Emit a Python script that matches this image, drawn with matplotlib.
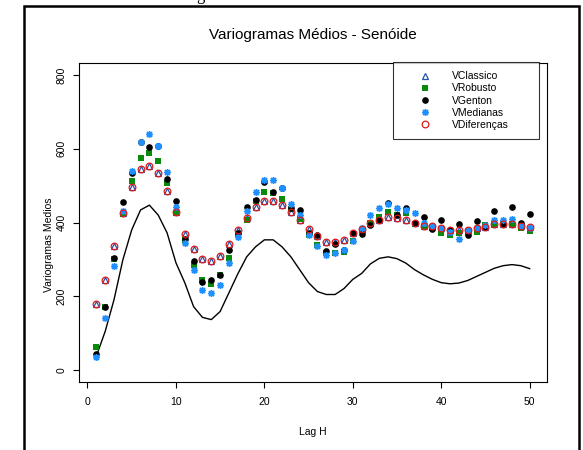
import matplotlib
matplotlib.use("Agg")
import matplotlib.pyplot as plt
from matplotlib.lines import Line2D
import numpy as np

plt.rcParams['font.family'] = ['Liberation Sans', 'DejaVu Sans']

lags = list(range(1, 51))

v_classico = [180, 245, 336, 427, 497, 544, 553, 533, 485, 428,
              368, 327, 301, 295, 310, 341, 380, 412, 441, 459,
              458, 447, 429, 407, 382, 363, 348, 348, 353, 371,
              382, 398, 406, 416, 411, 407, 400, 390, 390, 384,
              380, 380, 380, 384, 387, 395, 395, 395, 390, 388]
v_robusto = [62, 170, 300, 422, 513, 576, 589, 566, 506, 427,
             353, 285, 245, 234, 258, 303, 369, 408, 458, 483,
             479, 463, 437, 409, 366, 340, 318, 317, 320, 350,
             380, 398, 416, 429, 420, 425, 395, 390, 385, 372,
             366, 371, 375, 375, 392, 395, 395, 395, 384, 377]
v_genton = [45, 170, 305, 455, 533, 618, 604, 606, 517, 459,
            356, 295, 240, 245, 258, 326, 372, 441, 462, 510,
            483, 494, 440, 434, 372, 366, 324, 341, 326, 371,
            369, 392, 406, 453, 420, 440, 400, 416, 382, 407,
            380, 396, 366, 405, 387, 432, 395, 442, 399, 422]
v_medianas = [37, 141, 281, 430, 540, 618, 640, 608, 537, 441,
              345, 270, 218, 208, 231, 290, 360, 430, 483, 516,
              514, 494, 450, 420, 366, 335, 313, 317, 326, 350,
              385, 420, 438, 450, 438, 434, 426, 400, 390, 384,
              375, 355, 380, 384, 393, 406, 406, 409, 390, 385]
v_diferencas = [179, 245, 336, 426, 497, 544, 553, 533, 485, 428,
                368, 327, 301, 295, 310, 341, 380, 412, 441, 459,
                458, 447, 429, 407, 382, 363, 348, 348, 353, 371,
                382, 398, 406, 416, 411, 407, 400, 390, 390, 384,
                380, 380, 380, 384, 387, 395, 395, 395, 390, 388]
v_teorico = [38, 105, 191, 299, 380, 434, 447, 420, 372, 291,
             237, 172, 143, 137, 159, 210, 261, 307, 334, 353,
             353, 334, 307, 272, 237, 213, 205, 205, 221, 246,
             262, 288, 303, 307, 302, 290, 272, 258, 246, 237,
             234, 236, 243, 254, 265, 276, 283, 286, 283, 275]

x_ticks = [0, 10, 20, 30, 40, 50]
y_ticks = [0, 200, 400, 600, 800]

W, H = 583, 450
fig = plt.figure(figsize=(W / 100, H / 100), dpi=100)

# axes placement (pixels from top-left)
L, R, T, B = 79, 547, 63, 382
ax = fig.add_axes([L / W, 1 - B / H, (R - L) / W, (B - T) / H])

c_classico = '#2452a8'
c_robusto = '#0a8a0a'
c_genton = 'black'
c_medianas = '#1e90ff'
c_dif = '#e01818'

ax.plot(lags, v_teorico, color='black', lw=1.0, zorder=2)
ax.plot(lags, v_classico, linestyle='none', marker='^', markersize=4.2,
        markerfacecolor='none', markeredgecolor=c_classico, markeredgewidth=0.9,
        label='VClassico', zorder=3)
ax.plot(lags, v_robusto, linestyle='none', marker='s', markersize=4.6,
        color=c_robusto, markeredgewidth=0, label='VRobusto', zorder=4)
ax.plot(lags, v_genton, linestyle='none', marker='o', markersize=4.8,
        color=c_genton, markeredgewidth=0, label='VGenton', zorder=5)
ax.plot(lags, v_medianas, linestyle='none', marker=(8, 2, 0), markersize=5.0,
        color=c_medianas, markeredgewidth=1.0, label='VMedianas', zorder=6)
ax.plot(lags, v_diferencas, linestyle='none', marker='o', markersize=4.8,
        markerfacecolor='none', markeredgecolor=c_dif, markeredgewidth=0.9,
        label='VDiferenças', zorder=7)

ax.set_xlim(-0.96, 51.96)
ax.set_ylim(-32, 832)
ax.set_xticks(x_ticks)
ax.set_yticks(y_ticks)
ax.set_xticklabels([str(t) for t in x_ticks])
ax.set_yticklabels([str(t) for t in y_ticks], rotation=90, va='center')
ax.tick_params(axis='both', direction='out', length=4, width=0.8,
               labelsize=7.5, colors='black')
ax.tick_params(axis='x', pad=7)
ax.tick_params(axis='y', pad=5)
for s in ax.spines.values():
    s.set_linewidth(0.8)
    s.set_color('black')

ax.set_xlabel('Lag H', fontsize=7.5)
ax.set_ylabel('Variogramas Medios', fontsize=7.5)
ax.xaxis.set_label_coords(0.5, (B - 432) / (B - T), transform=ax.transAxes)
ax.yaxis.set_label_coords((49 - L) / (R - L), (B - 245) / (B - T), transform=ax.transAxes)
ax.xaxis.label.set_va('center')
ax.yaxis.label.set_va('center')

fig.text((L + R) / 2 / W, 1 - 35 / H, 'Variogramas Médios - Senóide',
         ha='center', va='center', fontsize=11)

# legend box
lx0, lx1, ly0, ly1 = 393, 539, 62, 141
leg = ax.legend(loc='upper left',
                bbox_to_anchor=((lx0 - L) / (R - L), (B - ly1) / (B - T),
                                (lx1 - lx0) / (R - L), (ly1 - ly0) / (B - T)),
                mode='expand', borderaxespad=0, fontsize=7.5,
                frameon=True, fancybox=False, edgecolor='black',
                borderpad=0.9, handlelength=4.3, handletextpad=0.45,
                labelspacing=0.2, numpoints=1)
leg.get_frame().set_linewidth(0.8)

# outer document frame
fig.add_artist(Line2D([24 / W, 24 / W, 579 / W, 579 / W],
                      [0, 1 - 6 / H, 1 - 6 / H, 0],
                      transform=fig.transFigure, color='black', lw=1.8,
                      solid_joinstyle='miter'))
fig.text(200 / W, 1 + 0.5 / H, 'g', family=['Liberation Serif'], fontsize=12,
         ha='center', va='baseline')

fig.savefig('out.png', dpi=100)
